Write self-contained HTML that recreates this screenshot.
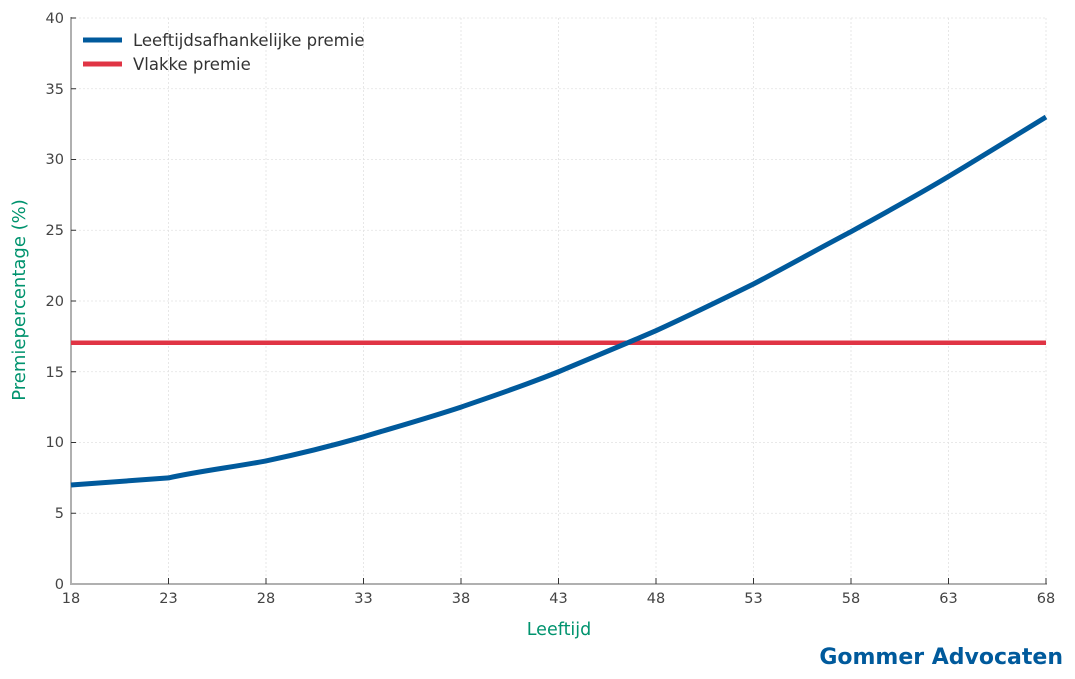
<!DOCTYPE html>
<html><head><meta charset="utf-8"><style>
html,body{margin:0;padding:0;background:#fff;}
svg{display:block;font-family:"DejaVu Sans","Liberation Sans",sans-serif;}
</style></head><body>
<svg width="1075" height="679" viewBox="0 0 1075 679">
<g stroke="#e2e2e2" stroke-width="0.8" stroke-dasharray="2,2">
<line x1="168.5" y1="18" x2="168.5" y2="584"/><line x1="266" y1="18" x2="266" y2="584"/>
<line x1="363.5" y1="18" x2="363.5" y2="584"/><line x1="461" y1="18" x2="461" y2="584"/>
<line x1="558.5" y1="18" x2="558.5" y2="584"/><line x1="656" y1="18" x2="656" y2="584"/>
<line x1="753.5" y1="18" x2="753.5" y2="584"/><line x1="851" y1="18" x2="851" y2="584"/>
<line x1="948.5" y1="18" x2="948.5" y2="584"/><line x1="1046" y1="18" x2="1046" y2="584"/>
<line x1="71" y1="513.25" x2="1046" y2="513.25"/><line x1="71" y1="442.5" x2="1046" y2="442.5"/>
<line x1="71" y1="371.75" x2="1046" y2="371.75"/><line x1="71" y1="301" x2="1046" y2="301"/>
<line x1="71" y1="230.25" x2="1046" y2="230.25"/><line x1="71" y1="159.5" x2="1046" y2="159.5"/>
<line x1="71" y1="88.75" x2="1046" y2="88.75"/><line x1="71" y1="18" x2="1046" y2="18"/>
</g>
<g stroke="#b0b0b0" stroke-width="2"><line x1="71" y1="17" x2="71" y2="585"/><line x1="70" y1="584" x2="1047" y2="584"/></g>
<g stroke="#333" stroke-width="1">
<line x1="71" y1="513.25" x2="76" y2="513.25"/><line x1="71" y1="442.5" x2="76" y2="442.5"/><line x1="71" y1="371.75" x2="76" y2="371.75"/><line x1="71" y1="301" x2="76" y2="301"/><line x1="71" y1="230.25" x2="76" y2="230.25"/><line x1="71" y1="159.5" x2="76" y2="159.5"/><line x1="71" y1="88.75" x2="76" y2="88.75"/><line x1="71" y1="18" x2="76" y2="18"/>
<line x1="168.5" y1="584" x2="168.5" y2="578"/><line x1="266" y1="584" x2="266" y2="578"/><line x1="363.5" y1="584" x2="363.5" y2="578"/><line x1="461" y1="584" x2="461" y2="578"/><line x1="558.5" y1="584" x2="558.5" y2="578"/><line x1="656" y1="584" x2="656" y2="578"/><line x1="753.5" y1="584" x2="753.5" y2="578"/><line x1="851" y1="584" x2="851" y2="578"/><line x1="948.5" y1="584" x2="948.5" y2="578"/><line x1="1046" y1="584" x2="1046" y2="578"/>
</g>
<g fill="#444" font-size="14.5" text-anchor="end">
<text x="64" y="589">0</text><text x="64" y="518">5</text><text x="64" y="447">10</text><text x="64" y="377">15</text><text x="64" y="306">20</text><text x="64" y="235">25</text><text x="64" y="164">30</text><text x="64" y="94">35</text><text x="64" y="23">40</text>
</g>
<g fill="#444" font-size="14.5" text-anchor="middle">
<text x="71" y="603">18</text><text x="168.5" y="603">23</text><text x="266" y="603">28</text><text x="363.5" y="603">33</text><text x="461" y="603">38</text><text x="558.5" y="603">43</text><text x="656" y="603">48</text><text x="753.5" y="603">53</text><text x="851" y="603">58</text><text x="948.5" y="603">63</text><text x="1046" y="603">68</text>
</g>
<line x1="71" y1="342.8" x2="1046" y2="342.8" stroke="#e03444" stroke-width="4.5"/>
<path d="M71,484.95 L168.5,477.9 C200,471 234,467 266,460.9 C299,454 331,446 363.5,436.8 C396,427 428,418 461,407.1 C493,396 526,385 558.5,371.75 C591,358 623,345 656,330.7 C688,316 721,300 753.5,284 C786,267 818,249 851,231.7 C883,214 916,196 948.5,176.5 C981,157 1013,137 1046,117.05" fill="none" stroke="#005a9c" stroke-width="5"/>
<line x1="83" y1="40" x2="122" y2="40" stroke="#005a9c" stroke-width="5"/>
<line x1="83" y1="64" x2="122" y2="64" stroke="#e03444" stroke-width="5"/>
<g fill="#333" font-size="16.5"><text x="133" y="46">Leeftijdsafhankelijke premie</text><text x="133" y="70">Vlakke premie</text></g>
<text x="559" y="635" fill="#00936e" font-size="17.5" text-anchor="middle">Leeftijd</text>
<text transform="translate(25,300) rotate(-90)" fill="#00936e" font-size="18" text-anchor="middle">Premiepercentage (%)</text>
<text x="1063" y="664" fill="#005a9c" font-size="22" font-weight="bold" text-anchor="end">Gommer Advocaten</text>
</svg>
</body></html>
